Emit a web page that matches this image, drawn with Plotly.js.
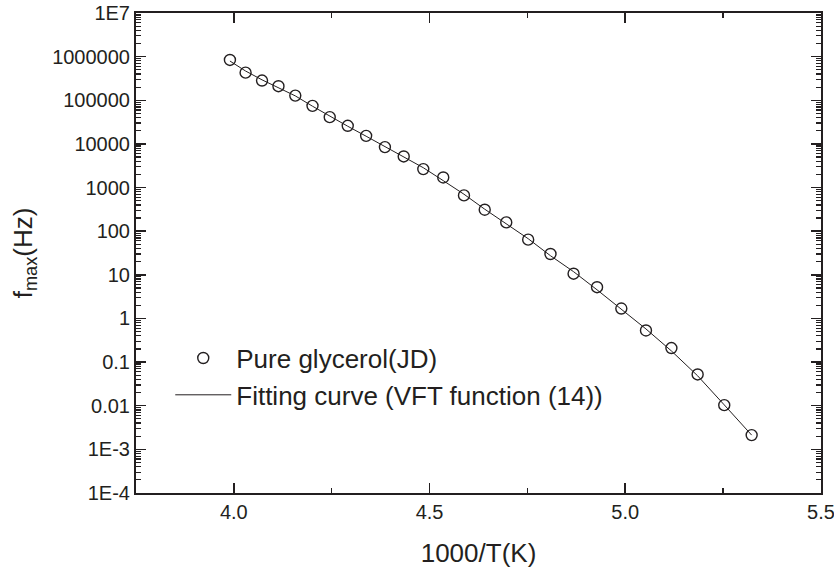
<!DOCTYPE html>
<html>
<head>
<meta charset="utf-8">
<script src="https://cdn.plot.ly/plotly-3.0.1.min.js"></script>
<style>html,body{margin:0;padding:0;background:#fff;}#chart{width:834px;height:573px;}</style>
</head>
<body>
<div id="chart"></div>
<script>
// 1000/T (1/K) of measured points
var invT = [3.990, 4.030, 4.072, 4.114, 4.157, 4.201, 4.245, 4.291, 4.338, 4.386, 4.434, 4.484, 4.535,
            4.588, 4.641, 4.696, 4.752, 4.809, 4.868, 4.928, 4.990, 5.053, 5.118, 5.185, 5.253, 5.323];
// measured f_max (Hz), pure glycerol (JD)
var fmax = [8.4e5, 4.3e5, 2.83e5, 2.1e5, 1.28e5, 7.45e4, 4.1e4, 2.6e4, 1.53e4, 8450, 5150, 2650, 1700,
            660, 310, 159, 64, 30, 10.6, 5.2, 1.69, 0.53, 0.21, 0.052, 0.0103, 0.00212];
// VFT fitting curve values
var fitX = invT;
var fitY = [7.94e5, 4.68e5, 2.94e5, 1.97e5, 1.26e5, 7.31e4, 4.30e4, 2.54e4, 1.50e4, 8730, 4860, 2850, 1440,
            703, 319, 147, 67.3, 27.4, 11.8, 4.53, 1.66, 0.574, 0.180, 0.0485, 0.01045, 0.00212];
// axis ticks
var yTickVals = [1e-4, 1e-3, 1e-2, 1e-1, 1, 10, 100, 1000, 1e4, 1e5, 1e6, 1e7];
var yTickText = ["1E-4", "1E-3", "0.01", "0.1", "1", "10", "100", "1000", "10000", "100000", "1000000", "1E7"];
var xTickVals = [4.0, 4.5, 5.0, 5.5];
var xTickText = ["4.0", "4.5", "5.0", "5.5"];
var xMinorVals = [4.25, 4.75, 5.25];
var seriesNames = ["Pure glycerol(JD)", "Fitting curve (VFT function (14))"];

var ink = '#231f20';
var font = 'Liberation Sans, Arial, Helvetica, sans-serif';

var traces = [
  {x: invT, y: fmax, type: 'scatter', mode: 'markers', name: seriesNames[0],
   marker: {symbol: 'circle-open', size: 11, color: ink, line: {width: 1.4, color: ink}}},
  {x: fitX, y: fitY, type: 'scatter', mode: 'lines', name: seriesNames[1],
   line: {color: ink, width: 1}}
];

var axisCommon = {
  showline: true, linecolor: ink, linewidth: 2, mirror: 'allticks',
  ticks: 'inside', ticklen: 10, tickwidth: 1.5, tickcolor: ink,
  showgrid: false, zeroline: false, ticklabeloverflow: 'allow',
  tickfont: {family: font, size: 20, color: ink}
};

var layout = {
  width: 834, height: 573,
  margin: {l: 136, r: 13, t: 13, b: 80},
  paper_bgcolor: '#fff', plot_bgcolor: '#fff',
  font: {family: font, color: ink},
  showlegend: true,
  legend: {x: 0.05, y: 0.33, xanchor: 'left', yanchor: 'top', bgcolor: 'rgba(0,0,0,0)',
           font: {family: font, size: 26, color: ink}, itemwidth: 56, tracegroupgap: 0},
  xaxis: Object.assign({}, axisCommon, {
    range: [3.75, 5.5002], tickmode: 'array', tickvals: xTickVals, ticktext: xTickText,
    minor: {tickmode: 'array', tickvals: xMinorVals, ticks: 'inside', ticklen: 5, tickwidth: 1.5, tickcolor: ink},
    title: {text: '1000/T(K)', font: {family: font, size: 26, color: ink}, standoff: 22}
  }),
  yaxis: Object.assign({}, axisCommon, {
    type: 'log', range: [-4, 7], tickmode: 'array', tickvals: yTickVals, ticktext: yTickText,
    minor: {dtick: 'D1', ticks: 'inside', ticklen: 5, tickwidth: 1.2, tickcolor: ink},
    title: {text: 'f<sub>max</sub>(Hz)', font: {family: font, size: 26, color: ink}, standoff: 12}
  })
};

Plotly.newPlot('chart', traces, layout, {displayModeBar: false, staticPlot: true});
</script>
</body>
</html>
